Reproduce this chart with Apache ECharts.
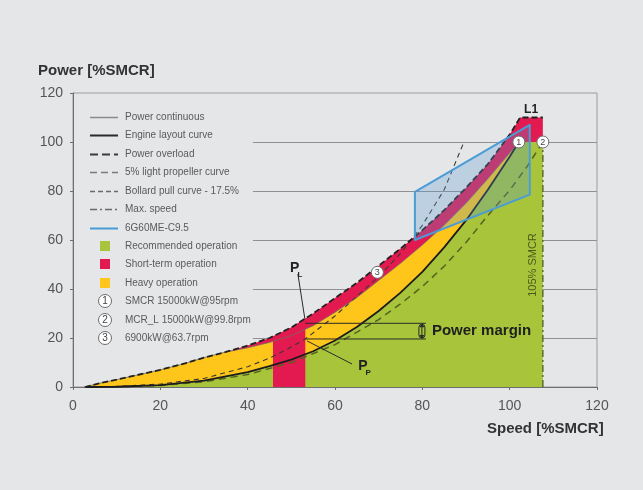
<!DOCTYPE html>
<html>
<head>
<meta charset="utf-8">
<script src="https://cdn.jsdelivr.net/npm/echarts@6/dist/echarts.min.js"></script>
<style>
  html, body { margin: 0; padding: 0; background: #e4e6e8; }
  #chart { width: 643px; height: 490px; }
</style>
</head>
<body>
<div id="chart"></div>
<script>
// ---- Engine load diagram data (speed %SMCR, power %SMCR) ----
const gridLevels = [20, 40, 60, 80, 100];

const overloadCurve = [[2.7,0],[6,1.5],[10,3],[15,5],[20,7],[25,9.3],[30,12],[35,14.3],[40,16.9],[45,20],[50,24.3],[55,30],[60,36.3],[65,42.5],[70,49.5],[75,56.5],[80,64],[85,72.2],[90,81.3],[95,91],[100,103],[102.4,110]];
const continuousCurve = [[2.7,0],[6,1.5],[10,3],[15,5],[20,7],[25,9.3],[30,12],[35,14.3],[40,16],[45,18.2],[50,21],[55,25],[60,30.5],[65,36.5],[70,43.5],[75,50.5],[80,58],[85,66],[90,75],[95,85],[100,95.5],[102.1,100]];
const engineCurve = [[3,0],[10,0.1],[20,0.8],[30,2.6],[40,6.1],[45,8.5],[50,11.2],[55,14.6],[60,19],[65,24.5],[70,31],[75,38.5],[80,47],[85,57],[90,68],[95,80.5],[100,94],[102.1,100]];
const bollardCurve = [[3,0],[10,0.2],[20,1.2],[30,3.5],[40,8.3],[45,11.8],[50,16.3],[53.2,19.6],[60,29],[65,37],[70,45],[75,54.5],[80,66],[85,80.5],[89.3,99]];
const lightPropCurve = [[6,0],[20,0.6],[30,2.1],[40,5.1],[50,10],[60,17.3],[70,27.5],[75,33.9],[80,41],[85,49.3],[90,59],[95,70],[100,80.3],[104,90],[107.6,100]];

const smcrPoint = [102.1, 100];
const mcrLPoint = [107.6, 100];
const partLoadPoint = [69.7, 46.8];
const l1Top = [[102.4,110],[107.6,110]];
const maxSpeedLine = [[107.6,0],[107.6,100]];
const shortTermBlock = [[45.8,0],[45.8,20.6],[50,24.3],[53.2,28],[53.2,0]];
const layoutDiagram = [[78.3,60],[78.3,79.6],[104.6,107],[104.6,78.5]];
const marginUpper = [[53.2,26],[80.8,26]];
const marginLower = [[53.2,19.6],[80.8,19.6]];
const markerPoints = [[smcrPoint[0], smcrPoint[1], '1'], [mcrLPoint[0], mcrLPoint[1], '2'], [partLoadPoint[0], partLoadPoint[1], '3']];

const legendLabels = ['Power continuous','Engine layout curve','Power overload','5% light propeller curve','Bollard pull curve - 17.5%','Max. speed','6G60ME-C9.5','Recommended operation','Short-term operation','Heavy operation','SMCR 15000kW@95rpm','MCR_L 15000kW@99.8rpm','6900kW@63.7rpm'];

// ---- colours & fonts ----
const GREEN = '#a8c43a';
const YELLOW = '#fec51a';
const RED = '#e31a4f';
const BLUE = '#4b9cd6';
const FONT = '"Liberation Sans", Arial, sans-serif';
const GRID_FROM_SPEED = 41.2;

// ---- derived polygons ----
const greenArea = engineCurve.concat([mcrLPoint, [mcrLPoint[0], 0]]);
const yellowArea = continuousCurve.concat(engineCurve.slice().reverse());
const bandStart = 7; // index of speed 35 in both boundary curves
const redBand = overloadCurve.slice(bandStart)
  .concat(l1Top.slice(1), [mcrLPoint, smcrPoint])
  .concat(continuousCurve.slice(bandStart, continuousCurve.length - 1).reverse());

function polygonSeries(points, style, z) {
  return {
    type: 'custom', z, silent: true, data: points,
    renderItem(params, api) {
      if (params.dataIndex !== 0) return;
      return { type: 'polygon', shape: { points: points.map(p => api.coord(p)) }, style };
    }
  };
}
function lineSeries(points, lineStyle, z) {
  return { type: 'line', data: points, symbol: 'none', showSymbol: false, silent: true, z, lineStyle };
}

const series = [];
// horizontal guide lines
series.push({
  type: 'custom', z: 1, silent: true, data: gridLevels.map(v => [GRID_FROM_SPEED, v]),
  renderItem(params, api) {
    const a = api.coord([api.value(0), api.value(1)]);
    const b = api.coord([120, api.value(1)]);
    return { type: 'line', shape: { x1: a[0], y1: Math.round(a[1]) + 0.5, x2: b[0], y2: Math.round(b[1]) + 0.5 }, style: { stroke: '#8f9193', lineWidth: 1 } };
  }
});
// operating regions
series.push(polygonSeries(greenArea, { fill: GREEN }, 2));
series.push(polygonSeries(yellowArea, { fill: YELLOW }, 3));
series.push(polygonSeries(redBand, { fill: RED }, 4));
series.push(polygonSeries(shortTermBlock, { fill: RED }, 4));
// engine layout diagram
series.push(polygonSeries(layoutDiagram, { fill: 'rgba(90,150,210,0.28)', stroke: BLUE, lineWidth: 2, lineJoin: 'round' }, 8));
// curves
series.push(lineSeries(lightPropCurve, { color: '#55621f', width: 1.5, type: [7, 5] }, 6));
series.push(lineSeries(bollardCurve, { color: '#3a3a32', width: 1.1, type: [5, 4] }, 6));
series.push(lineSeries(continuousCurve, { color: '#7a6a60', width: 0.8 }, 6));
series.push(lineSeries(engineCurve, { color: '#1c1c1c', width: 1.8 }, 7));
series.push(lineSeries(overloadCurve.concat(l1Top.slice(1)), { color: '#222', width: 1.8, type: [6, 3] }, 7));
series.push(lineSeries(maxSpeedLine, { color: '#5d6b2a', width: 1.5, type: [7, 3, 2, 3] }, 6));
series.push(lineSeries(marginUpper, { color: '#2a2a2a', width: 1 }, 7));
series.push(lineSeries(marginLower, { color: '#2a2a2a', width: 1 }, 7));

// power margin double arrow
series.push({
  type: 'custom', z: 9, silent: true, data: [[79.9, 19.6, 26]],
  renderItem(params, api) {
    const lo = api.coord([api.value(0), api.value(1)]);
    const hi = api.coord([api.value(0), api.value(2)]);
    const x = lo[0];
    return { type: 'group', children: [
      { type: 'rect', shape: { x: x - 3, y: hi[1] + 1, width: 6, height: lo[1] - hi[1] - 2, r: 3 }, style: { fill: 'none', stroke: '#2a2a2a', lineWidth: 1 } },
      { type: 'line', shape: { x1: x, y1: hi[1] + 1, x2: x, y2: lo[1] - 1 }, style: { stroke: '#2a2a2a', lineWidth: 1 } },
      { type: 'polygon', shape: { points: [[x, hi[1]], [x - 2.5, hi[1] + 4], [x + 2.5, hi[1] + 4]] }, style: { fill: '#2a2a2a' } },
      { type: 'polygon', shape: { points: [[x, lo[1]], [x - 2.5, lo[1] - 4], [x + 2.5, lo[1] - 4]] }, style: { fill: '#2a2a2a' } }
    ] };
  }
});

// pointer lines for P_L and P_P
const pointerLines = [[51.5, 46.1, 53.1, 27.8], [53.6, 18.8, 63.9, 9.4]];
series.push({
  type: 'custom', z: 9, silent: true, data: pointerLines,
  renderItem(params, api) {
    const a = api.coord([api.value(0), api.value(1)]);
    const b = api.coord([api.value(2), api.value(3)]);
    return { type: 'line', shape: { x1: a[0], y1: a[1], x2: b[0], y2: b[1] }, style: { stroke: '#2a2a2a', lineWidth: 1 } };
  }
});

// numbered operating points
series.push({
  type: 'custom', z: 10, silent: true, data: markerPoints,
  renderItem(params, api) {
    const c = api.coord([api.value(0), api.value(1)]);
    return { type: 'group', children: [
      { type: 'circle', shape: { cx: c[0], cy: c[1], r: 6 }, style: { fill: '#ffffff', stroke: '#6d6d6d', lineWidth: 1 } },
      { type: 'text', x: c[0], y: c[1] + 0.5, style: { text: markerPoints[params.dataIndex][2], font: '9px ' + FONT, fill: '#444', textAlign: 'center', textVerticalAlign: 'middle' } }
    ] };
  }
});

// text annotations anchored in chart units
const annotations = [
  { at: [49.7, 48.6], text: 'P', font: 'bold 14px ' + FONT, fill: '#222', align: 'left' },
  { at: [51.4, 45.6], text: 'L', font: 'bold 8px ' + FONT, fill: '#222', align: 'left' },
  { at: [65.3, 8.6], text: 'P', font: 'bold 14px ' + FONT, fill: '#222', align: 'left' },
  { at: [67.0, 5.6], text: 'P', font: 'bold 8px ' + FONT, fill: '#222', align: 'left' },
  { at: [104.9, 113.2], text: 'L1', font: 'bold 12px ' + FONT, fill: '#222', align: 'center' },
  { at: [82.2, 22.8], text: 'Power margin', font: 'bold 15px "Liberation Sans Narrow", ' + FONT, fill: '#1f1f1f', align: 'left' },
  { at: [105.3, 49.8], text: '105% SMCR', font: '11px "Liberation Sans Narrow", ' + FONT, fill: '#4b5a1c', align: 'center', rotate: true }
];
series.push({
  type: 'custom', z: 11, silent: true, data: annotations.map(a => a.at),
  renderItem(params, api) {
    const a = annotations[params.dataIndex];
    const c = api.coord(a.at);
    return { type: 'text', x: c[0], y: c[1], rotation: a.rotate ? Math.PI / 2 : 0,
      style: { text: a.text, font: a.font, fill: a.fill, textAlign: a.align, textVerticalAlign: 'middle' } };
  }
});

// ---- legend drawn inside the plot ----
const legendGraphics = [];
const LX0 = 90, LX1 = 118, LT = 125, LY = 117, LSTEP = 18.42;
const sampleStyles = [
  { stroke: '#8a8a8a', lineWidth: 1.5 },
  { stroke: '#2a2a2a', lineWidth: 2 },
  { stroke: '#3c3c3c', lineWidth: 2.2, lineDash: [8, 4] },
  { stroke: '#7b7b7b', lineWidth: 1.5, lineDash: [7, 4] },
  { stroke: '#6a6a6a', lineWidth: 1.3, lineDash: [5, 3] },
  { stroke: '#6a6a6a', lineWidth: 1.3, lineDash: [7, 3, 2, 3] },
  { stroke: BLUE, lineWidth: 2 }
];
const swatches = [GREEN, RED, YELLOW];
legendLabels.forEach((label, i) => {
  const y = Math.round(LY + i * LSTEP);
  if (i < sampleStyles.length) {
    legendGraphics.push({ type: 'line', shape: { x1: LX0, y1: y + 0.5, x2: LX1, y2: y + 0.5 }, style: sampleStyles[i], silent: true });
  } else if (i < sampleStyles.length + swatches.length) {
    legendGraphics.push({ type: 'rect', shape: { x: 100, y: y - 5, width: 10, height: 10 }, style: { fill: swatches[i - sampleStyles.length] }, silent: true });
  } else {
    const n = String(i - sampleStyles.length - swatches.length + 1);
    legendGraphics.push({ type: 'circle', shape: { cx: 105, cy: y, r: 6.5 }, style: { fill: '#ffffff', stroke: '#6d6d6d', lineWidth: 1 }, silent: true });
    legendGraphics.push({ type: 'text', x: 105, y: y + 0.5, style: { text: n, font: '10px ' + FONT, fill: '#444', textAlign: 'center', textVerticalAlign: 'middle' }, silent: true });
  }
  legendGraphics.push({ type: 'text', x: LT, y: y, style: { text: label, font: '10px ' + FONT, fill: '#5a5a5a', textAlign: 'left', textVerticalAlign: 'middle' }, silent: true });
});
// axis titles
legendGraphics.push({ type: 'text', x: 38, y: 71, style: { text: 'Power [%SMCR]', font: 'bold 15px ' + FONT, fill: '#333', textAlign: 'left', textVerticalAlign: 'middle' }, silent: true });
legendGraphics.push({ type: 'text', x: 487, y: 429, style: { text: 'Speed [%SMCR]', font: 'bold 15px ' + FONT, fill: '#333', textAlign: 'left', textVerticalAlign: 'middle' }, silent: true });

const chart = echarts.init(document.getElementById('chart'), null, { renderer: 'canvas' });
chart.setOption({
  animation: false,
  backgroundColor: '#e4e6e8',
  grid: { left: 73, top: 93, width: 524, height: 294, show: true, borderColor: '#9a9c9e', borderWidth: 1, backgroundColor: 'transparent' },
  xAxis: {
    type: 'value', min: 0, max: 120, interval: 20,
    axisLine: { lineStyle: { color: '#6e6e6e', width: 1 } },
    axisTick: { show: true, length: 3, lineStyle: { color: '#6e6e6e' } },
    axisLabel: { fontSize: 14, color: '#555', margin: 12, fontFamily: FONT },
    splitLine: { show: false }
  },
  yAxis: {
    type: 'value', min: 0, max: 120, interval: 20,
    axisLine: { show: true, lineStyle: { color: '#6e6e6e', width: 1 } },
    axisTick: { show: true, length: 3, lineStyle: { color: '#6e6e6e' } },
    axisLabel: { fontSize: 14, color: '#555', margin: 10, fontFamily: FONT },
    splitLine: { show: false }
  },
  graphic: legendGraphics,
  series
});
</script>
</body>
</html>
